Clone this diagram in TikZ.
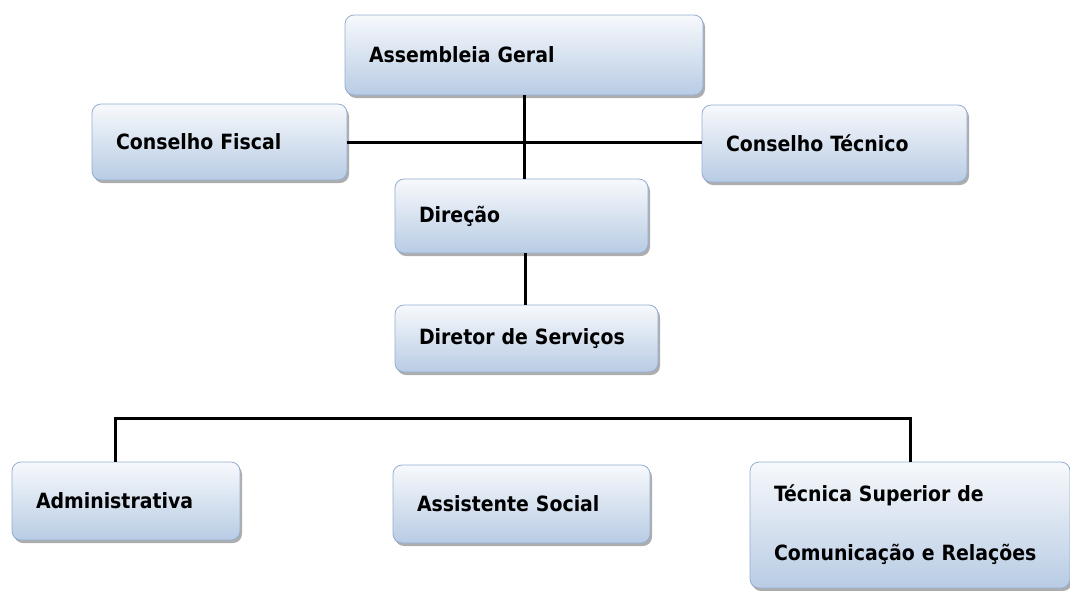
\documentclass[tikz,border=0pt]{standalone}
\usepackage{fontspec}
\usepackage{tikz}
\usetikzlibrary{shadows}
\newfontfamily\orgfont{DejaVu Sans Condensed}
\definecolor{boxtop}{HTML}{F7F9FC}
\definecolor{boxbot}{HTML}{B8CCE4}
\definecolor{boxline}{HTML}{93ADD2}

\begin{document}
\begin{tikzpicture}[x=1pt,y=-1pt,
  box/.style={rectangle,draw=boxline,line width=0.8pt,rounded corners=9pt,
              top color=boxtop,bottom color=boxbot,align=left,inner xsep=24pt,
              drop shadow={shadow xshift=2pt,shadow yshift=-3pt,fill=gray!80,opacity=.8},
              font=\orgfont\bfseries\fontsize{21}{25}\selectfont},
  link/.style={line width=3pt,black}
]
\useasboundingbox (0,0) rectangle (1070,590);
\node[box,text width=310pt,minimum height=80pt] (asm)     at (524,55)    {Assembleia Geral};
\node[box,text width=207pt,minimum height=76pt] (fiscal)  at (219.5,142) {Conselho Fiscal};
\node[box,text width=217pt,minimum height=77pt] (tecnico) at (834.5,143.5) {Conselho Técnico};
\node[box,text width=205pt,minimum height=74pt] (dir)     at (521.5,216) {Direção};
\node[box,text width=215pt,minimum height=67pt] (serv)    at (526.5,338.5) {Diretor de Serviços};
\node[box,text width=180pt,minimum height=78pt] (adm)     at (126,501)   {Administrativa};
\node[box,text width=209pt,minimum height=78pt] (social)  at (521.5,504) {Assistente Social};
\node[box,text width=272pt,minimum height=126pt] (tsup)   at (910,525)
  {Técnica Superior de\\[34pt]Comunicação e Relações};

\coordinate (bar) at (0,418);

\draw[link] (asm.south) -- (asm.south |- dir.north);
\draw[link] (fiscal.east) -- (fiscal.east -| tecnico.west);
\draw[link] ([xshift=4pt]dir.south) -- ([xshift=4pt]dir.south |- serv.north);
\draw[link] ([xshift=-11pt]adm.north) |- (bar -| tsup.north) -- (tsup.north);
\end{tikzpicture}
\end{document}
